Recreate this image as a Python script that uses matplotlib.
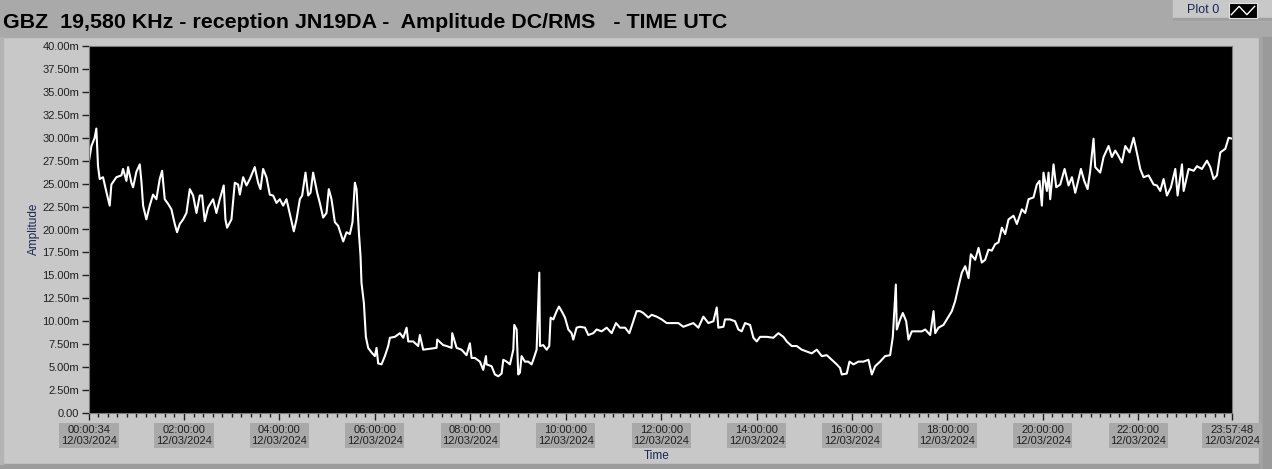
import matplotlib
matplotlib.use("Agg")
import matplotlib.pyplot as plt
from matplotlib.patches import Rectangle
from matplotlib.ticker import FixedLocator, FuncFormatter

# minutes since 00:00 UTC, 12/03/2024
minutes = [
    0.6, 3.6, 7.7, 9.8, 11.9, 14.0, 18.2, 22.4, 26.6, 28.7, 35.0, 41.3, 43.4, 47.6, 49.7,
    53.9, 56.0, 60.2, 64.4, 66.5, 68.6, 72.7, 76.9, 81.1, 85.3, 89.5, 92.5, 95.8, 100.0,
    104.2, 108.4, 111.3, 114.7, 118.9, 123.1, 127.3, 131.5, 135.7, 139.8, 142.8, 146.1,
    150.3, 156.6, 160.8, 165.0, 170.0, 172.1, 174.2, 179.7, 183.9, 188.1, 190.2, 194.4,
    198.6, 202.8, 209.0, 213.2, 216.2, 219.5, 223.7, 227.9, 232.1, 236.3, 240.5, 244.7,
    248.9, 253.1, 258.1, 261.5, 265.7, 268.6, 272.8, 276.2, 279.1, 282.4, 287.5, 290.8,
    295.0, 299.2, 302.1, 305.5, 309.7, 313.9, 320.2, 324.4, 328.6, 331.9, 334.9, 337.0,
    339.9, 342.0, 343.2, 346.2, 348.7, 351.6, 355.8, 360.0, 362.1, 364.2, 368.4, 372.6,
    376.8, 378.9, 385.2, 391.5, 395.7, 399.9, 402.0, 408.2, 414.5, 416.6, 420.8, 429.2,
    437.6, 438.4, 446.0, 450.2, 456.5, 457.3, 462.8, 469.1, 475.3, 479.5, 481.6, 485.8,
    492.1, 496.3, 499.7, 500.5, 506.8, 511.0, 515.2, 519.4, 521.5, 525.7, 529.9, 534.1,
    535.3, 538.3, 540.3, 542.4, 544.5, 548.7, 552.9, 557.1, 559.2, 563.4, 566.8, 567.6,
    571.8, 576.0, 579.3, 581.0, 584.4, 588.6, 591.5, 594.9, 599.1, 603.3, 607.4, 609.5,
    613.7, 617.9, 624.2, 628.4, 634.7, 638.9, 645.2, 651.5, 657.8, 663.2, 668.3, 674.6,
    680.0, 684.2, 689.2, 693.4, 697.6, 703.9, 708.1, 714.4, 720.7, 727.0, 735.3, 741.6,
    747.9, 754.2, 760.5, 766.8, 773.1, 779.4, 785.7, 789.9, 791.9, 798.3, 800.3, 806.6,
    812.9, 817.1, 821.3, 825.5, 831.8, 836.0, 840.2, 844.4, 852.8, 861.1, 867.4, 873.7,
    877.9, 884.2, 890.5, 896.8, 903.1, 909.4, 915.7, 922.0, 928.3, 934.5, 940.8, 945.0,
    947.1, 953.4, 956.8, 961.8, 968.1, 974.4, 980.7, 984.9, 989.1, 995.3, 1001.6, 1007.9,
    1011.3, 1015.1, 1016.3, 1020.5, 1023.9, 1028.1, 1031.0, 1035.2, 1041.5, 1047.8,
    1052.0, 1058.3, 1062.5, 1064.6, 1068.7, 1075.0, 1081.3, 1085.5, 1089.7, 1093.9,
    1098.1, 1102.3, 1106.5, 1109.4, 1114.9, 1119.1, 1123.2, 1127.4, 1131.6, 1135.8,
    1140.0, 1144.2, 1148.4, 1152.6, 1156.8, 1163.1, 1167.3, 1173.6, 1177.8, 1182.0,
    1188.2, 1192.4, 1195.8, 1198.7, 1200.8, 1205.0, 1207.1, 1209.2, 1213.4, 1216.8,
    1221.8, 1227.3, 1232.3, 1236.5, 1240.7, 1244.9, 1247.8, 1252.0, 1256.2, 1259.5,
    1263.7, 1265.8, 1272.1, 1276.3, 1282.6, 1286.8, 1291.0, 1295.2, 1299.4, 1303.6,
    1309.0, 1314.1, 1319.1, 1322.4, 1326.6, 1332.9, 1339.2, 1343.4, 1347.6, 1351.8,
    1356.0, 1361.0, 1366.5, 1369.4, 1374.9, 1377.0, 1383.3, 1389.6, 1393.8, 1400.0,
    1406.3, 1410.5, 1414.7, 1418.9, 1423.1, 1429.4, 1433.6, 1437.8,
]
# amplitude in milli-units (m)
amplitude_m = [
    27.5, 29.1, 30.0, 31.0, 26.9, 25.5, 25.7, 24.1, 22.6, 24.9, 25.7, 25.9, 26.6, 25.3, 26.8,
    25.1, 24.6, 26.3, 27.1, 25.2, 22.6, 21.1, 22.6, 23.8, 23.3, 25.5, 26.4, 23.3, 22.8,
    22.2, 20.6, 19.7, 20.6, 21.1, 21.8, 24.4, 23.7, 21.8, 23.7, 23.7, 20.9,
    22.4, 23.3, 21.8, 23.3, 24.8, 21.1, 20.2, 21.1, 25.1, 24.9, 23.8, 25.7,
    24.8, 25.5, 26.8, 25.1, 24.4, 26.6, 25.7, 23.8, 23.7, 22.9, 23.3, 22.6,
    23.3, 21.7, 19.8, 21.1, 23.3, 23.7, 26.2, 23.7, 24.0, 26.2, 24.0, 22.9,
    21.3, 21.8, 24.4, 23.3, 20.8, 20.4, 18.7, 19.7, 19.5, 20.8, 25.1, 24.4,
    19.7, 17.1, 14.2, 12.0, 8.3, 7.1, 6.6, 6.2, 7.1, 5.4, 5.3, 6.2,
    7.3, 8.2, 8.3, 8.7, 8.2, 9.3, 7.8, 7.8, 7.3, 8.5, 6.9, 7.0,
    7.1, 8.0, 7.4, 7.3, 7.1, 8.7, 7.1, 6.9, 6.3, 7.6, 6.0, 6.0,
    5.6, 4.7, 6.2, 5.3, 5.1, 4.2, 4.0, 4.3, 5.8, 5.6, 5.3, 6.9,
    9.6, 9.1, 4.2, 4.4, 6.2, 5.6, 5.6, 5.3, 5.8, 6.9, 15.3, 7.3,
    7.4, 6.9, 7.3, 10.4, 10.2, 11.1, 11.6, 11.1, 10.4, 9.1, 8.7, 8.0,
    9.3, 9.4, 9.3, 8.5, 8.7, 9.1, 8.9, 9.3, 8.7, 9.8, 9.3, 9.3,
    8.7, 9.8, 11.1, 11.1, 10.9, 10.4, 10.7, 10.5, 10.2, 9.8, 9.8, 9.8,
    9.4, 9.6, 9.8, 9.3, 10.5, 9.8, 10.0, 11.5, 9.3, 9.4, 10.2, 10.2,
    10.0, 9.1, 8.9, 9.8, 9.6, 8.2, 7.8, 8.3, 8.3, 8.2, 8.7, 8.3,
    7.8, 7.3, 7.3, 6.9, 6.7, 6.5, 6.9, 6.2, 6.3, 5.8, 5.3, 4.9,
    4.2, 4.3, 5.6, 5.3, 5.6, 5.6, 5.8, 4.2, 5.1, 5.6, 6.2, 6.3,
    8.3, 14.0, 9.1, 10.2, 10.9, 10.0, 8.0, 8.9, 8.9, 8.9,
    9.1, 8.5, 11.1, 8.7, 9.3, 9.6, 10.5, 11.1, 12.2, 13.8,
    15.3, 16.0, 14.7, 17.3, 16.7, 18.0, 16.4, 16.7, 17.8, 17.7,
    18.4, 18.6, 20.2, 19.5, 21.1, 21.5, 20.6, 22.2, 21.8, 23.3,
    23.5, 24.9, 25.3, 22.6, 26.2, 24.2, 26.2, 23.3, 27.1, 24.6,
    24.9, 26.6, 24.8, 25.7, 24.0, 25.5, 26.6, 25.3, 24.4, 26.4,
    29.9, 26.8, 26.2, 27.9, 29.1, 27.9, 28.6, 28.0, 27.3, 29.1,
    28.4, 30.0, 28.0, 26.6, 25.7, 25.9, 24.9, 24.8, 24.2, 25.5,
    23.7, 24.6, 26.6, 23.7, 27.1, 24.2, 26.6, 26.4, 26.9, 26.6,
    27.5, 26.8, 25.5, 25.9, 28.4, 28.8, 30.0, 29.9,
]

x_ticks = [0.57, 120, 240, 360, 480, 600, 720, 840, 960, 1080, 1200, 1320, 1437.8]
x_tick_labels = ["00:00:34", "02:00:00", "04:00:00", "06:00:00", "08:00:00", "10:00:00",
                 "12:00:00", "14:00:00", "16:00:00", "18:00:00", "20:00:00", "22:00:00",
                 "23:57:48"]
date_label = "12/03/2024"
y_ticks = [0, 2.5, 5, 7.5, 10, 12.5, 15, 17.5, 20, 22.5, 25, 27.5, 30, 32.5, 35, 37.5, 40]

W, H = 1272, 469
panel = "#c8c8c8"
band = "#a9a9a9"
navy = "#1c2656"
font = "Liberation Sans"

fig = plt.figure(figsize=(W / 100, H / 100), dpi=100)
fig.patch.set_facecolor(panel)

def px_rect(x, y, w, h, color):
    fig.patches.append(Rectangle((x / W, 1 - (y + h) / H), w / W, h / H,
                                 transform=fig.transFigure, color=color, zorder=-5))

px_rect(0, 0, W, 37, band)
px_rect(1259, 37, 13, H - 37, "#a4a4a4")
px_rect(1263, 37, 9, H - 37, "#9a9a9a")
px_rect(0, 464, 1259, 5, "#9c9c9c")
px_rect(0, 37, 3, 427, "#b4b4b4")
# legend box
px_rect(1173, 0, 99, 20, panel)
px_rect(1173, 18, 99, 2, "#a0a0a0")

fig.text(3 / W, 1 - 23 / H, "GBZ  19,580 KHz - reception JN19DA -  Amplitude DC/RMS   - TIME UTC",
         fontsize=15.4, fontweight="bold", family=font, va="center", ha="left", color="black")
fig.text(1187 / W, 1 - 10 / H, "Plot 0", fontsize=9, family=font, color=navy,
         va="center", ha="left")

icon = fig.add_axes([1229 / W, 1 - 18 / H, 28 / W, 15 / H], zorder=5)
icon.set_facecolor("black")
icon.plot([0, 1, 2, 3], [0, 1, 0, 1], color="white", lw=1)
icon.set_xlim(-0.3, 3.3)
icon.set_ylim(-0.4, 1.4)
icon.set_xticks([])
icon.set_yticks([])
for s in icon.spines.values():
    s.set_color("#e0e0e0")

ax = fig.add_axes([89 / W, 1 - 413 / H, 1143 / W, 367 / H])
ax.set_facecolor("black")
ax.plot(minutes, amplitude_m, color="white", lw=1.5)
ax.set_xlim(x_ticks[0], x_ticks[-1])
ax.set_ylim(0, 40)

ax.set_yticks(y_ticks)
ax.yaxis.set_major_formatter(FuncFormatter(lambda v, p: "0.00" if v == 0 else f"{v:.2f}m"))
ax.set_xticks(x_ticks)
ax.set_xticklabels([t + "\n" + date_label for t in x_tick_labels])
ax.xaxis.set_minor_locator(FixedLocator([m for m in range(12, 1437, 12)]))

ax.tick_params(axis="y", direction="out", length=5, width=1, color="#202020",
               labelsize=8, pad=2)
ax.tick_params(axis="x", which="major", direction="out", length=5, width=1,
               color="#202020", labelsize=8, pad=3.5)
ax.tick_params(axis="x", which="minor", direction="out", length=3, width=1, color="#202020")
for lab in ax.get_yticklabels():
    lab.set_family(font)
    lab.set_color("#202020")
for lab in ax.get_xticklabels():
    lab.set_family(font)
    lab.set_color("#202020")
    lab.set_linespacing(1.2)
    lab.set_bbox(dict(facecolor=band, edgecolor="none", pad=1.2))

for s in ax.spines.values():
    s.set_color("#7a7a7a")

fig.text(34 / W, 1 - 229 / H, "Amplitude", rotation=90, fontsize=8.5, family=font,
         color=navy, ha="center", va="center")
fig.text(657 / W, 1 - 456 / H, "Time", fontsize=8.5, family=font, color=navy,
         ha="center", va="center")

fig.savefig("out.png", dpi=100, facecolor=fig.get_facecolor())
